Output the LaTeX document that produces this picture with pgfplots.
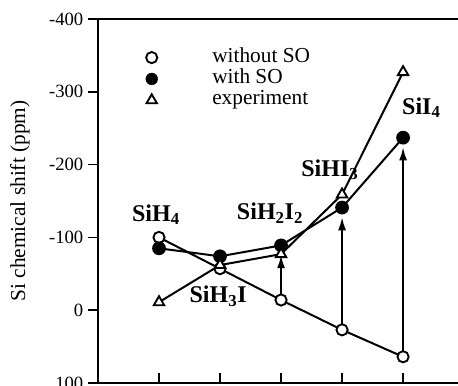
\documentclass[border=0pt]{standalone}
\usepackage{fontspec}
\setmainfont{Liberation Serif}
\usepackage{pgfplots}
\pgfplotsset{compat=1.18}
\usetikzlibrary{arrows.meta}
\begin{document}
\begin{tikzpicture}
\begin{axis}[
  scale only axis, width=270pt, height=273pt,
  xmin=0, xmax=5.9, ymin=-400, ymax=100, y dir=reverse,
  separate axis lines,
  axis x line*=box, axis y line*=left,
  xtick={1,2,3,4,5}, xticklabels={}, xtick pos=lower,
  ytick={-400,-300,-200,-100,0,100},
  yticklabels={-400,-300,-200,-100,0,100}, ytick pos=left,
  xtick align=inside, ytick align=outside,
  major tick length=7.5pt,
  axis line style={line width=1.3pt},
  tick style={line width=1.3pt, black},
  yticklabel style={font=\fontsize{14}{14}\selectfont},
  ylabel={Si chemical shift (ppm)},
  ylabel style={at={(axis description cs:-0.217,0.5)}, anchor=center, font=\fontsize{16}{16}\selectfont},
  legend style={draw=none, fill=none, at={(axis cs:0.78,-362)}, anchor=north west,
    font=\fontsize{16}{16}\selectfont, row sep=0pt, inner sep=0pt,
    nodes={inner sep=1pt, text height=10.5pt, text depth=3.5pt},
    /tikz/every odd column/.append style={column sep=40pt}},
  legend cell align=left,
  clip=false,
]
\coordinate (BL) at (axis description cs:0,0);
\coordinate (TR) at (axis description cs:1,1);
% without SO
\addplot[forget plot, black, line width=1.5pt, mark=*, mark size=4.2pt, mark options={fill=white, line width=1.4pt}]
  coordinates {(1,-100) (2,-57) (3,-14) (4,27) (5,64)};
% with SO
\addplot[forget plot, black, line width=1.5pt, mark=*, mark size=4.4pt, mark options={fill=black}]
  coordinates {(1,-85) (2,-74) (3,-89) (4,-141) (5,-237)};
% experiment
\addplot[forget plot, black, line width=1.5pt, mark=triangle*, mark size=4.5pt, mark options={fill=white, line width=1.4pt}]
  coordinates {(1,-11) (2,-62) (3,-77) (4,-159) (5,-327)};
% SO arrows
\addplot[forget plot, black, line width=1.5pt, -{Latex[length=10pt,width=6pt]}] coordinates {(3,-14) (3,-76)};
\addplot[forget plot, black, line width=1.5pt, -{Latex[length=10pt,width=6pt]}] coordinates {(4,27) (4,-128)};
\addplot[forget plot, black, line width=1.5pt, -{Latex[length=10pt,width=6pt]}] coordinates {(5,64) (5,-224)};
\addlegendimage{only marks, mark=*, mark size=4.2pt, mark options={fill=white, line width=1.4pt}}
\addlegendentry{without SO}
\addlegendimage{only marks, mark=*, mark size=4.4pt, mark options={fill=black}}
\addlegendentry{with SO}
\addlegendimage{only marks, mark=triangle*, mark size=4.5pt, mark options={fill=white, line width=1.4pt}}
\addlegendentry{experiment}
\node[font=\bfseries\fontsize{18}{18}\selectfont] at (axis cs:0.95,-131) {SiH\textsubscript{4}};
\node[font=\bfseries\fontsize{18}{18}\selectfont] at (axis cs:1.97,-19) {SiH\textsubscript{3}I};
\node[font=\bfseries\fontsize{18}{18}\selectfont] at (axis cs:2.82,-133) {SiH\textsubscript{2}I\textsubscript{2}};
\node[font=\bfseries\fontsize{18}{18}\selectfont] at (axis cs:3.8,-193) {SiHI\textsubscript{3}};
\node[font=\bfseries\fontsize{18}{18}\selectfont] at (axis cs:5.3,-278) {SiI\textsubscript{4}};
\end{axis}
\pgfresetboundingbox
\useasboundingbox ([shift={(-73.5pt,-2.25pt)}]BL) rectangle ([shift={(0pt,14.25pt)}]TR);
\end{tikzpicture}
\end{document}
